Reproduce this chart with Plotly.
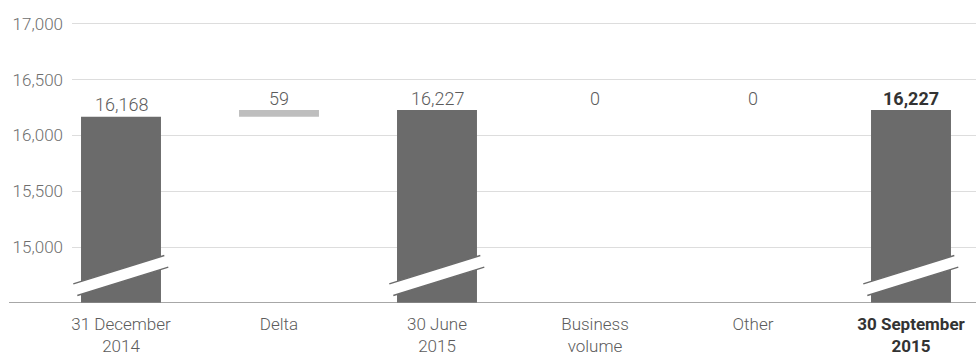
import plotly.graph_objects as go

# Bridge from year-end 2014 to 30 September 2015
categories = ["31 December<br>2014", "Delta", "30 June<br>2015",
              "Business<br>volume", "Other", "30 September<br>2015"]
kinds = ["total", "change", "total", "change", "change", "total"]
amounts = [16168, 59, 16227, 0, 0, 16227]
y_ticks = [15000, 15500, 16000, 16500, 17000]
axis_floor = 14500

FONT = "Roboto, 'Open Sans', sans-serif"
DARK = "#6b6b6b"
LIGHT = "#bebebe"
TEXT = "#5c5c5c"

# running totals for the waterfall
tops, bases = [], []
running = 0
for kind, amt in zip(kinds, amounts):
    if kind == "total":
        running = amt
        bases.append(axis_floor)
    else:
        bases.append(running)
        running += amt
    tops.append(running)

xs = list(range(len(categories)))
total_x = [x for x, k in zip(xs, kinds) if k == "total"]
change_x = [x for x, k in zip(xs, kinds) if k == "change"]

fig = go.Figure()
fig.add_trace(go.Bar(
    x=total_x,
    y=[tops[i] - axis_floor for i in total_x],
    base=[axis_floor for _ in total_x],
    width=0.506,
    marker=dict(color=DARK, line=dict(width=0)),
    hoverinfo="skip",
))
fig.add_trace(go.Bar(
    x=change_x,
    y=[amounts[i] for i in change_x],
    base=[bases[i] for i in change_x],
    width=0.506,
    marker=dict(color=LIGHT, line=dict(width=0)),
    hoverinfo="skip",
))

# value labels above each step
for i in xs:
    txt = f"{amounts[i]:,}"
    last = i == xs[-1]
    fig.add_annotation(
        x=i, y=tops[i], text=f"<b>{txt}</b>" if last else txt,
        showarrow=False, yanchor="middle", yshift=12,
        font=dict(family=FONT, size=18, color="#333333" if last else TEXT,
                  weight=700 if last else 300),
    )

# axis-break marks across the total bars
shapes = []
band = "M -47.7 19.2 L 43.3 47.5 L 47.3 35.8 L -43.7 7.5 Z"
for i in total_x:
    common = dict(xref="x", yref="y", xsizemode="pixel", ysizemode="pixel",
                  xanchor=i, yanchor=axis_floor, layer="above")
    shapes.append(dict(type="path", path=band, fillcolor="white",
                       line=dict(width=0), **common))
    shapes.append(dict(type="path", path="M -47.7 19.2 L 43.3 47.5",
                       line=dict(color=DARK, width=1.4), **common))
    shapes.append(dict(type="path", path="M -43.7 7.5 L 47.3 35.8",
                       line=dict(color=DARK, width=1.4), **common))

# baseline running under the tick labels
shapes.append(dict(type="line", xref="paper", yref="y", x0=-0.0697, x1=1,
                   y0=axis_floor, y1=axis_floor,
                   line=dict(color="#8a8a8a", width=1.5), layer="above"))

ticktext = list(categories)
ticktext[-1] = f"<b><span style='color:#333333'>{categories[-1]}</span></b>"

fig.update_layout(
    width=976, height=356,
    margin=dict(l=72, r=0, t=10, b=53),
    paper_bgcolor="white", plot_bgcolor="white",
    showlegend=False, barmode="overlay",
    shapes=shapes,
    font=dict(family=FONT, size=17, color=TEXT, weight=300),
    xaxis=dict(
        range=[-0.3101, 5.4114],
        tickmode="array", tickvals=xs, ticktext=ticktext,
        showgrid=False, zeroline=False, showline=False, ticks="",
        ticklabelstandoff=9,
        tickfont=dict(family=FONT, size=17, color=TEXT, weight=300),
        fixedrange=True,
    ),
    yaxis=dict(
        range=[axis_floor, 17123],
        tickmode="array", tickvals=y_ticks,
        ticktext=[f"{v:,}" for v in y_ticks],
        showgrid=True, gridcolor="#dddddd", gridwidth=1,
        zeroline=False, showline=False, ticks="",
        ticklabelstandoff=8,
        tickfont=dict(family=FONT, size=17, color="#6e6e6e", weight=300),
        fixedrange=True,
    ),
)

fig.write_html("out.html", config={"displayModeBar": False})
